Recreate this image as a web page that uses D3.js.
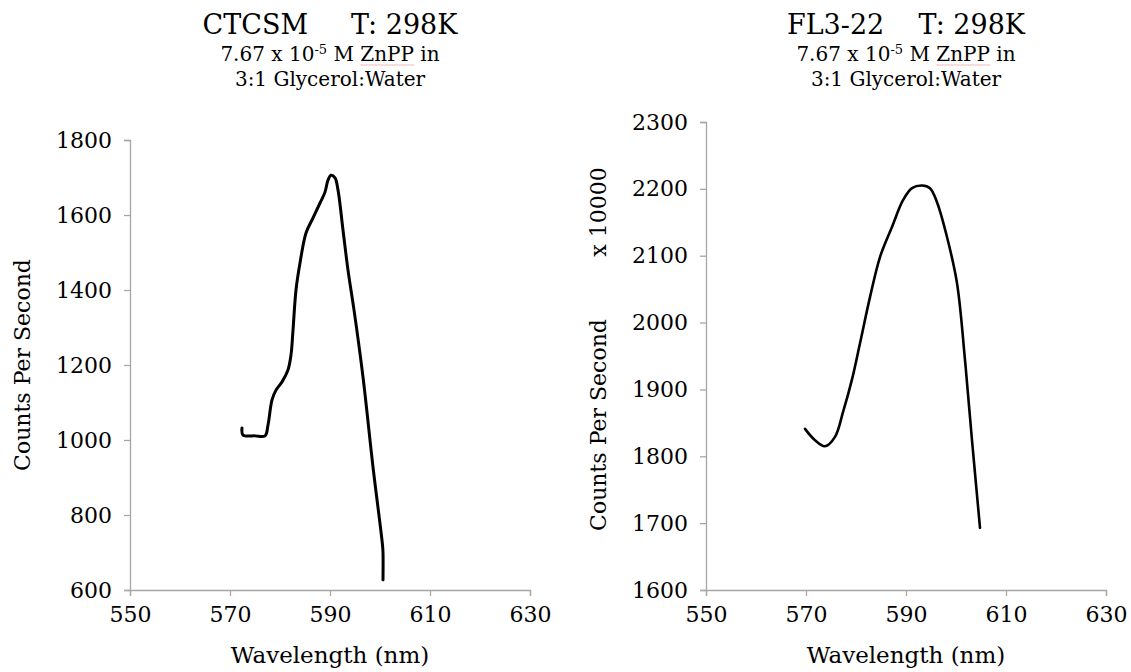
<!DOCTYPE html>
<html>
<head>
<meta charset="utf-8">
<script src="https://cdn.jsdelivr.net/npm/d3@7"></script>
<style>
  body { margin: 0; background: #fff; }
  svg text { font-family: "DejaVu Serif", Georgia, serif; fill: #000; }
  .axis path, .axis line { stroke: #a6a6a6; stroke-width: 1.3; }
</style>
</head>
<body>
<div id="chart"></div>
<script>
// left panel: CTCSM
const ctcsmWave = [572.4, 572.6, 575, 577, 577.6, 578.4, 579.2, 580.4, 581.6, 582.2, 582.6, 583.2, 584, 585.2, 586.6, 588, 589, 589.6, 590.2, 591, 591.6, 592.6, 593.6, 594.8, 596.6, 598.6, 600.5, 600.6, 600.6];
const ctcsmCounts = [1032, 1013, 1011, 1011, 1040, 1107, 1133, 1155, 1187, 1227, 1293, 1400, 1472, 1552, 1592, 1632, 1661, 1693, 1706, 1699, 1667, 1560, 1453, 1347, 1168, 928, 720, 700, 627];

// right panel: FL3-22 (x 10000)
const flWave = [569.8, 571.8, 573.8, 575.8, 577.4, 579.2, 580.8, 582.8, 584.8, 587.2, 589.4, 591.2, 593.2, 594.8, 596.2, 598.2, 600.2, 601.8, 603.2, 604.8];
const flCounts = [1841, 1824, 1815, 1829, 1866, 1915, 1969, 2038, 2098, 2143, 2183, 2201, 2205, 2201, 2180, 2128, 2059, 1944, 1824, 1693];

const xTicks = [550, 570, 590, 610, 630];
const ctcsmTicks = [600, 800, 1000, 1200, 1400, 1600, 1800];
const flTicks = [1600, 1700, 1800, 1900, 2000, 2100, 2200, 2300];

const svg = d3.select("#chart").append("svg")
    .attr("width", 1131)
    .attr("height", 672);

function drawPanel(opt) {
    let g = svg.append("g");

    let x = d3.scaleLinear().domain([550, 630]).range([opt.left, opt.left + 400]);
    let y = d3.scaleLinear().domain(opt.yDomain).range([590, opt.top]);

    let xAxis = d3.axisBottom(x).tickValues(xTicks).tickFormat(d3.format("d"))
        .tickSize(6).tickSizeOuter(6).tickPadding(10);
    let yAxis = d3.axisLeft(y).tickValues(opt.yTicks).tickFormat(d3.format("d"))
        .tickSize(6).tickSizeOuter(6).tickPadding(12);

    g.append("g")
        .attr("class", "axis")
        .attr("transform", "translate(0,590)")
        .call(xAxis)
        .call(s => s.selectAll("text").attr("font-size", 22));

    g.append("g")
        .attr("class", "axis")
        .attr("transform", `translate(${opt.left},0)`)
        .call(yAxis)
        .call(s => s.selectAll("text").attr("font-size", 22));

    // the curve
    let pts = opt.wave.map((w, i) => [w, opt.counts[i]]);
    let line = d3.line()
        .x(d => x(d[0]))
        .y(d => y(d[1]))
        .curve(d3.curveCatmullRom.alpha(0.5));

    g.append("path")
        .datum(pts)
        .attr("fill", "none")
        .attr("stroke", "#000")
        .attr("stroke-width", opt.lw)
        .attr("stroke-linejoin", "round")
        .attr("stroke-linecap", "round")
        .attr("d", line);

    // titles
    let cx = opt.left + 200;
    g.append("text")
        .attr("x", cx).attr("y", 34)
        .attr("text-anchor", "middle")
        .attr("font-size", 27)
        .attr("xml:space", "preserve")
        .text(opt.title);

    let sub = g.append("text")
        .attr("x", cx).attr("y", 61)
        .attr("text-anchor", "middle")
        .attr("font-size", 20);
    sub.append("tspan").text("7.67 x 10");
    sub.append("tspan").attr("dy", -7).attr("font-size", 13).text("-5");
    sub.append("tspan").attr("dy", 7).text(" M ");
    sub.append("tspan").text("ZnPP");
    sub.append("tspan").text(" in");

    // spell-check underline under ZnPP
    let sn = sub.node();
    let i0 = sn.textContent.indexOf("ZnPP");
    let a = sn.getStartPositionOfChar(i0), b = sn.getEndPositionOfChar(i0 + 3);
    g.append("line")
        .attr("x1", a.x).attr("x2", b.x)
        .attr("y1", 65).attr("y2", 65)
        .attr("stroke", "#f2b8b8").attr("stroke-width", 1.2);

    g.append("text")
        .attr("x", cx).attr("y", 86)
        .attr("text-anchor", "middle")
        .attr("font-size", 20)
        .text("3:1 Glycerol:Water");

    // axis titles
    g.append("text")
        .attr("x", cx).attr("y", 663)
        .attr("text-anchor", "middle")
        .attr("font-size", 23)
        .text("Wavelength (nm)");

    g.append("text")
        .attr("transform", `translate(${opt.yLabelX},${opt.yLabelY}) rotate(-90)`)
        .attr("text-anchor", "middle")
        .attr("font-size", 22)
        .text("Counts Per Second");

    if (opt.unit) {
        g.append("text")
            .attr("transform", `translate(${opt.yLabelX},${opt.unitY}) rotate(-90)`)
            .attr("text-anchor", "middle")
            .attr("font-size", 22)
            .text(opt.unit);
    }
}

drawPanel({
    left: 130, top: 140, yDomain: [600, 1800], yTicks: ctcsmTicks,
    wave: ctcsmWave, counts: ctcsmCounts, lw: 3,
    title: "CTCSM     T: 298K",
    yLabelX: 30, yLabelY: 365
});

drawPanel({
    left: 706, top: 122, yDomain: [1600, 2300], yTicks: flTicks,
    wave: flWave, counts: flCounts, lw: 2.6,
    title: "FL3-22    T: 298K",
    yLabelX: 606, yLabelY: 425, unit: "x 10000", unitY: 212
});
</script>
</body>
</html>
